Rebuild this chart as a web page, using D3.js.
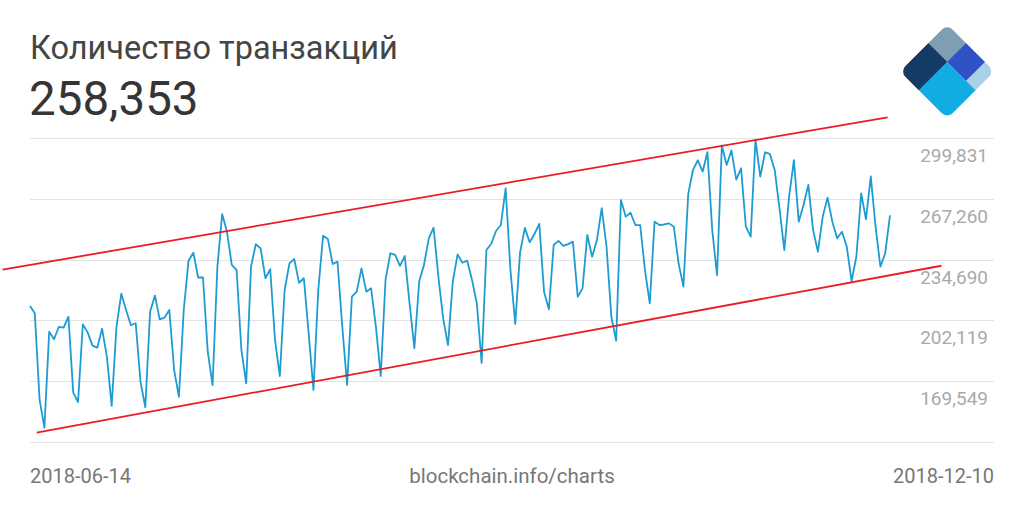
<!DOCTYPE html>
<html>
<head>
<meta charset="utf-8">
<script src="https://cdn.jsdelivr.net/npm/d3@7"></script>
<style>
  html, body { margin: 0; padding: 0; background: #fff; }
  svg { display: block; font-family: Roboto, "Noto Sans", sans-serif; }
</style>
</head>
<body>
<svg id="chart" width="1024" height="512"></svg>
<script>
// ---- data ----
const titleText = "Количество транзакций";
const latestValue = "258,353";
const sourceText = "blockchain.info/charts";
const dateLabels = ["2018-06-14", "2018-12-10"];
const yTickValues = [169549, 202119, 234690, 267260, 299831];
const yTickLabels = ["169,549", "202,119", "234,690", "267,260", "299,831"];

// daily transaction counts, 2018-06-14 .. 2018-12-10 (180 days)
const transactions = [
  209800, 205900, 159500, 144600, 196100, 192000, 198700, 198200, 204100, 163400,
  158400, 200000, 195700, 188600, 187500, 197700, 182700, 156300, 198700, 216400,
  207700, 199500, 200600, 169300, 155600, 206800, 215400, 202700, 203600, 207700,
  175500, 161200, 207700, 234100, 238400, 225100, 225200, 185400, 167400, 230900,
  259100, 249600, 231800, 229100, 186300, 168400, 230900, 242900, 240700, 224700,
  229500, 191600, 172300, 218400, 232700, 235000, 222300, 224700, 195200, 164800,
  218400, 247500, 245700, 232300, 233600, 198700, 167500, 214800, 217500, 230000,
  217500, 219300, 198700, 172300, 223800, 238100, 237200, 231300, 236600, 211300,
  187200, 222900, 231800, 246100, 251800, 225500, 203200, 188900, 222900, 237500,
  233000, 234100, 223800, 211300, 179300, 239800, 243200, 250000, 253200, 272900,
  229100, 200200, 238500, 251700, 244000, 248400, 253800, 217300, 208100, 242500,
  244700, 242000, 243000, 244300, 214800, 219300, 247900, 236200, 245200, 262200,
  241600, 204100, 191200, 266600, 257700, 259800, 253200, 253200, 229100, 211300,
  255000, 253200, 253500, 254100, 252300, 232700, 220200, 269800, 282800, 287900,
  281800, 292200, 250500, 226300, 295800, 285400, 293200, 277500, 283600, 252300,
  247000, 298800, 279100, 292200, 291300, 282700, 262200, 239800, 268400, 288000,
  255000, 263900, 274700, 250500, 238900, 257700, 267900, 255000, 246100, 249600,
  241600, 223200, 236200, 270200, 256300, 279300, 252300, 230900, 238100, 258353
];

// hand-drawn channel lines: [day index, value]
const upperChannel = [[-5.7, 229300], [178.5, 310900]];
const lowerChannel = [[1.4, 142000], [189.7, 231400]];

// ---- drawing ----
const svg = d3.select("#chart");
const tickStep = yTickValues[1] - yTickValues[0];
const yMin = yTickValues[0] - tickStep;
const yMax = yTickValues[yTickValues.length - 1];

const x = d3.scaleLinear().domain([0, transactions.length - 1]).range([30, 890]);
const y = d3.scaleLinear().domain([yMin, yMax]).range([442, 138]);

// grid lines
const gridVals = [yMin].concat(yTickValues);
svg.append("g").selectAll("line").data(gridVals).join("line")
  .attr("x1", 30).attr("x2", 994)
  .attr("y1", d => Math.round(y(d)) + 0.5).attr("y2", d => Math.round(y(d)) + 0.5)
  .attr("stroke", "#e3e3e3").attr("stroke-width", 1.2);

// y labels (placed just below their grid line)
svg.append("g").selectAll("text").data(yTickValues).join("text")
  .attr("x", 988).attr("y", d => y(d) + 24)
  .attr("text-anchor", "end")
  .attr("font-size", 19).attr("fill", "#a9a9a9")
  .text((d, i) => yTickLabels[i]);

// series line
const line = d3.line().x((d, i) => x(i)).y(d => y(d));
svg.append("path").datum(transactions)
  .attr("d", line)
  .attr("fill", "none").attr("stroke", "#1d9bd3")
  .attr("stroke-width", 1.8).attr("stroke-linejoin", "round");

// channel lines
const chLine = d3.line().x(d => x(d[0])).y(d => y(d[1]));
[upperChannel, lowerChannel].forEach(c => {
  svg.append("path").datum(c).attr("d", chLine)
    .attr("fill", "none").attr("stroke", "#ec1b23").attr("stroke-width", 1.8);
});

// header texts
svg.append("text").attr("x", 30).attr("y", 59)
  .attr("font-size", 32.5).attr("fill", "#454545").text(titleText);
svg.append("text").attr("x", 29).attr("y", 115)
  .attr("font-size", 47.5).attr("fill", "#353535").text(latestValue);

// footer texts
svg.append("text").attr("x", 30).attr("y", 483)
  .attr("font-size", 20).attr("fill", "#777").text(dateLabels[0]);
svg.append("text").attr("x", 512).attr("y", 483).attr("text-anchor", "middle")
  .attr("font-size", 20.5).attr("fill", "#777").text(sourceText);
svg.append("text").attr("x", 994).attr("y", 483).attr("text-anchor", "end")
  .attr("font-size", 20).attr("fill", "#777").text(dateLabels[1]);

// logo
const s = 67;
const logo = svg.append("g").attr("transform", "translate(947.2,24) rotate(45)");
const defs = svg.append("defs");
defs.append("clipPath").attr("id", "logoClip")
  .append("rect").attr("width", s).attr("height", s).attr("rx", 8).attr("ry", 8);
const lg = logo.append("g").attr("clip-path", "url(#logoClip)");
const parts = [
  [0, 0, 0.4, 0.4, "#7f9db3"],
  [0, 0.4, 0.4, 0.6, "#143a66"],
  [0.4, 0, 0.4, 0.4, "#3152c6"],
  [0.8, 0, 0.2, 0.4, "#a9d1e7"],
  [0.4, 0.4, 0.6, 0.6, "#12ace5"]
];
lg.selectAll("rect").data(parts).join("rect")
  .attr("x", d => d[0] * s).attr("y", d => d[1] * s)
  .attr("width", d => d[2] * s + 0.3).attr("height", d => d[3] * s + 0.3)
  .attr("fill", d => d[4]);
</script>
</body>
</html>
